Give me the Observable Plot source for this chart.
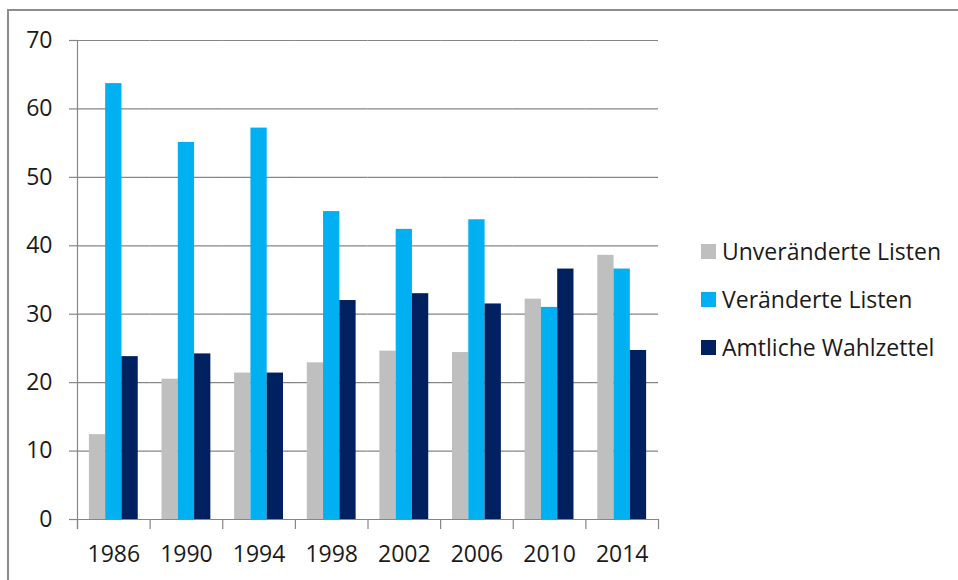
<!DOCTYPE html>
<html>
<head>
<meta charset="utf-8">
<script src="https://cdn.jsdelivr.net/npm/d3@7"></script>
<script src="https://cdn.jsdelivr.net/npm/@observablehq/plot@0.6"></script>
<style>
  html, body { margin: 0; padding: 0; background: #fff; }
  #wrap { position: relative; width: 958px; height: 580px; overflow: hidden; font-family: "Open Sans", sans-serif; }
  #border { position: absolute; left: 7px; top: 9px; width: 1000px; height: 700px; z-index: 5; pointer-events: none;
            border-left: 2px solid #8c8c8c; border-top: 2px solid #8c8c8c; box-sizing: border-box; }
  #chart { position: absolute; left: 0; top: 0; }
  .leg { position: absolute; left: 701px; height: 30px; display: flex; align-items: center; font-size: 23px; color: #1a1a1a; white-space: nowrap; }
  .leg .sw { width: 15px; height: 15px; margin-right: 6px; flex: none; }
</style>
</head>
<body>
<div id="wrap">
  <div id="chart"></div>
  <div id="border"></div>
</div>
<script>
const years = ["1986", "1990", "1994", "1998", "2002", "2006", "2010", "2014"];
const seriesNames = ["Unveränderte Listen", "Veränderte Listen", "Amtliche Wahlzettel"];
const seriesColors = ["#bfbfbf", "#00b0f0", "#002060"];
const unveraendert = [12.4, 20.5, 21.4, 22.9, 24.6, 24.4, 32.2, 38.6];
const veraendert   = [63.7, 55.1, 57.2, 45.0, 42.4, 43.8, 31.0, 36.6];
const amtlich      = [23.8, 24.2, 21.4, 32.0, 33.0, 31.5, 36.6, 24.7];
const yTicks = [0, 10, 20, 30, 40, 50, 60, 70];

const seriesValues = [unveraendert, veraendert, amtlich];
const data = [];
years.forEach((y, i) => {
  seriesNames.forEach((s, j) => data.push({year: y, series: s, value: seriesValues[j][i]}));
});

const W = 958, H = 580, mL = 77, mR = 300, mT = 40, mB = 61;
const plotH = H - mT - mB;
const axisColor = "#868686";

const chart = Plot.plot({
  width: W, height: H,
  marginLeft: mL, marginRight: mR, marginTop: mT, marginBottom: mB,
  style: {fontFamily: "'Open Sans', sans-serif", fontSize: "23px", color: "#1a1a1a", background: "transparent"},
  fx: {domain: years, paddingInner: 0, paddingOuter: 0, round: false, label: null, axis: null},
  x: {domain: seriesNames, paddingInner: 0, paddingOuter: 0.73, round: false, axis: null},
  y: {domain: [0, 70], axis: null},
  color: {domain: seriesNames, range: seriesColors},
  marks: [
    Plot.gridY({ticks: yTicks, stroke: axisColor, strokeOpacity: 1, strokeWidth: 1.2}),
    Plot.axisY({ticks: yTicks, tickSize: 8, tickPadding: 17, stroke: axisColor, fill: "#1a1a1a", strokeWidth: 1.2, label: null}),
    Plot.axisFx({anchor: "bottom", tickSize: 0, tickPadding: 26, label: null, fill: "#1a1a1a"}),
    Plot.barY(data, {fx: "year", x: "series", y: "value", fill: "series"}),
    Plot.frame({anchor: "left", facetAnchor: "left", stroke: axisColor, strokeWidth: 1.2, insetBottom: -9}),
    Plot.frame({anchor: "left", stroke: axisColor, strokeWidth: 1.2, insetTop: plotH, insetBottom: -9}),
    Plot.frame({anchor: "right", facetAnchor: "right", stroke: axisColor, strokeWidth: 1.2, insetTop: plotH, insetBottom: -9})
  ]
});
document.getElementById("chart").appendChild(chart);

// legend
const legendTops = [236, 284, 332];
const wrap = document.getElementById("wrap");
seriesNames.forEach((s, j) => {
  const row = document.createElement("div");
  row.className = "leg";
  row.style.top = legendTops[j] + "px";
  const sw = document.createElement("span");
  sw.className = "sw";
  sw.style.background = seriesColors[j];
  const t = document.createElement("span");
  t.textContent = s;
  row.appendChild(sw);
  row.appendChild(t);
  wrap.appendChild(row);
});
</script>
</body>
</html>
